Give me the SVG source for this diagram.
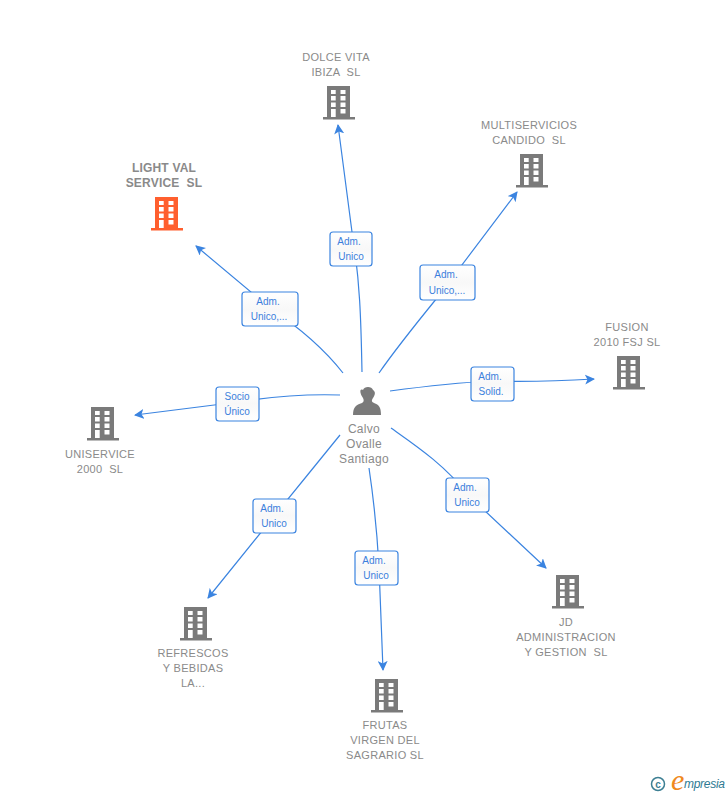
<svg xmlns="http://www.w3.org/2000/svg" xmlns:xlink="http://www.w3.org/1999/xlink" width="728" height="795" viewBox="0 0 728 795">
<style>
.n{font:11px "Liberation Sans",Arial,sans-serif;fill:#8a8a8a;text-anchor:middle;letter-spacing:.3px;white-space:pre}
.b{font-weight:bold;font-size:12px;letter-spacing:.2px}
.p{font-size:12px}
.l{font:10px "Liberation Sans",Arial,sans-serif;fill:#3b7fdc;text-anchor:middle}
.c{fill:none;stroke:#3b84e0;stroke-width:1.2}
.box{fill:url(#g);stroke:#3b84e0;stroke-width:1.2}
</style>
<defs>
<linearGradient id="g" x1="0" y1="0" x2="0" y2="1"><stop offset="0" stop-color="#fff"/><stop offset=".5" stop-color="#f8f8f8"/><stop offset="1" stop-color="#fff"/></linearGradient>
<marker id="a" viewBox="0 0 10 10" refX="9" refY="5" markerWidth="10" markerHeight="10" markerUnits="userSpaceOnUse" orient="auto"><path d="M0 0L10 5L0 10L2.500 5Z" fill="#3b84e0"/></marker>
<symbol id="bld" viewBox="0 0 32 34" width="32" height="34" overflow="visible">
<path fill-rule="evenodd" d="M4 0H27V31H32V33.500H0V31H4ZM8 4V8H12.700V4ZM17.500 4V8H22.500V4ZM8 10V14.500H12.700V10ZM17.500 10V14.500H22.500V10ZM8 16.500V21H12.700V16.500ZM17.500 16.500V21H22.500V16.500ZM8 23V31H12.700V23ZM17.500 23V27.500H22.500V23Z"/>
</symbol>
</defs>
<rect width="728" height="795" fill="#fff"/>
<g id="connectors">
<path class="c" marker-end="url(#a)" d="M362 372C361 320 360 280 352 232L338 125"/>
<path class="c" marker-end="url(#a)" d="M379 373C395 350 415 325 437 298L517 192"/>
<path class="c" marker-end="url(#a)" d="M390 391C420 387 450 383 492 381C530 382 560 381 594 379"/>
<path class="c" marker-end="url(#a)" d="M343 373C325 350 300 328 270 308L196 246"/>
<path class="c" marker-end="url(#a)" d="M340 395C310 394 275 396 238 402L135 415"/>
<path class="c" marker-end="url(#a)" d="M391 428C415 445 445 465 468 495L546 568"/>
<path class="c" marker-end="url(#a)" d="M340 435C320 460 295 490 275 515L208 598"/>
<path class="c" marker-end="url(#a)" d="M369 468C373 495 377 530 379 567L383 670"/>
</g>
<g id="label-dolce"><rect class="box" x="330" y="232" width="42" height="34" rx="3"/><text class="l" x="349" y="245">Adm.</text><text class="l" x="351" y="260">Unico</text></g>
<g id="label-multi"><rect class="box" x="420" y="265" width="55" height="35" rx="3"/><text class="l" x="446" y="278">Adm.</text><text class="l" x="447" y="294">Unico,...</text></g>
<g id="label-fusion"><rect class="box" x="471" y="367" width="43" height="34" rx="3"/><text class="l" x="490" y="380">Adm.</text><text class="l" x="491" y="395">Solid.</text></g>
<g id="label-light"><rect class="box" x="242" y="292" width="56" height="34" rx="3"/><text class="l" x="268" y="305">Adm.</text><text class="l" x="269" y="320">Unico,...</text></g>
<g id="label-uniservice"><rect class="box" x="216" y="387" width="43" height="34" rx="3"/><text class="l" x="237" y="400">Socio</text><text class="l" x="237" y="415">Único</text></g>
<g id="label-jd"><rect class="box" x="446" y="478" width="43" height="34" rx="3"/><text class="l" x="465" y="491">Adm.</text><text class="l" x="467" y="506">Unico</text></g>
<g id="label-refrescos"><rect class="box" x="253" y="499" width="43" height="34" rx="3"/><text class="l" x="272" y="512">Adm.</text><text class="l" x="274" y="527">Unico</text></g>
<g id="label-frutas"><rect class="box" x="355" y="551" width="43" height="34" rx="3"/><text class="l" x="374" y="564">Adm.</text><text class="l" x="376" y="579">Unico</text></g>
<g id="node-center">
<path fill="#7a7a7a" d="M353 415C353 407 356 405 362 403C364 402 364 400 363 398C360 394 359 388 363 390C364 386 372 386 373 390C376 392 375 395 373 398C371 401 372 402 374 403C379 405 381 407 381 415Z"/>
<text class="n p" x="364" y="433">Calvo</text><text class="n p" x="364" y="448">Ovalle</text><text class="n p" x="364" y="463">Santiago</text>
</g>
<g id="node-dolce" fill="#7a7a7a"><use xlink:href="#bld" href="#bld" x="323" y="86"/><text class="n" x="336" y="61">DOLCE VITA</text><text class="n" x="336" y="76">IBIZA  SL</text></g>
<g id="node-multi" fill="#7a7a7a"><use xlink:href="#bld" href="#bld" x="516" y="154"/><text class="n" x="529" y="129">MULTISERVICIOS</text><text class="n" x="529" y="144">CANDIDO  SL</text></g>
<g id="node-fusion" fill="#7a7a7a"><use xlink:href="#bld" href="#bld" x="613" y="356"/><text class="n" x="627" y="331">FUSION</text><text class="n" x="627" y="346">2010 FSJ SL</text></g>
<g id="node-light" fill="#ff5f2e"><use xlink:href="#bld" href="#bld" x="151" y="197"/><text class="n b" x="164" y="172">LIGHT VAL</text><text class="n b" x="164" y="187">SERVICE  SL</text></g>
<g id="node-uniservice" fill="#7a7a7a"><use xlink:href="#bld" href="#bld" x="87" y="407"/><text class="n" x="100" y="458">UNISERVICE</text><text class="n" x="100" y="473">2000  SL</text></g>
<g id="node-jd" fill="#7a7a7a"><use xlink:href="#bld" href="#bld" x="552" y="575"/><text class="n" x="566" y="626">JD</text><text class="n" x="566" y="641">ADMINISTRACION</text><text class="n" x="566" y="656">Y GESTION  SL</text></g>
<g id="node-refrescos" fill="#7a7a7a"><use xlink:href="#bld" href="#bld" x="180" y="607"/><text class="n" x="193" y="657">REFRESCOS</text><text class="n" x="193" y="672">Y BEBIDAS</text><text class="n" x="193" y="687">LA...</text></g>
<g id="node-frutas" fill="#7a7a7a"><use xlink:href="#bld" href="#bld" x="371" y="679"/><text class="n" x="385" y="729">FRUTAS</text><text class="n" x="385" y="744">VIRGEN DEL</text><text class="n" x="385" y="759">SAGRARIO SL</text></g>
<g id="logo">
<circle cx="658" cy="784" r="6.500" fill="none" stroke="#3d7f93" stroke-width="1.500"/>
<text x="658" y="787.500" font-family="Liberation Sans,sans-serif" font-size="10" font-weight="bold" fill="#3d7f93" text-anchor="middle">c</text>
<text x="671" y="790" font-family="Liberation Serif,serif" font-style="italic" font-size="30" fill="#f08a1d">e</text>
<text x="684" y="788" font-family="Liberation Sans,sans-serif" font-style="italic" font-size="12" textLength="41" fill="#2e7a92">mpresia</text>
</g>
</svg>
